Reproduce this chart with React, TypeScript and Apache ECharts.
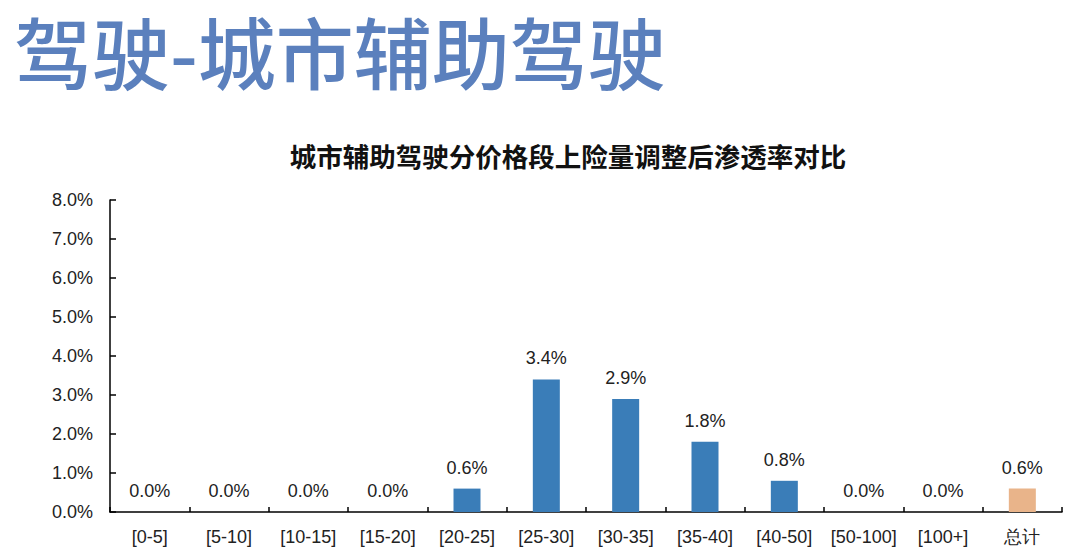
import React, { useEffect, useRef } from "react";
import * as echarts from "echarts";

const categories = ["[0-5]", "[5-10]", "[10-15]", "[15-20]", "[20-25]", "[25-30]", "[30-35]", "[35-40]", "[40-50]", "[50-100]", "[100+]", "总计"];
const values = [0.0, 0.0, 0.0, 0.0, 0.6, 3.4, 2.9, 1.8, 0.8, 0.0, 0.0, 0.6];
const yTicks = [0, 1, 2, 3, 4, 5, 6, 7, 8];
const pageTitle = "驾驶-城市辅助驾驶";
const chartTitle = "城市辅助驾驶分价格段上险量调整后渗透率对比";

export default function App() {
  const ref = useRef<HTMLDivElement>(null);
  useEffect(() => {
    if (!ref.current) return;
    const chart = echarts.init(ref.current, undefined, { renderer: "svg" });
    const last = categories.length - 1;
    chart.setOption({
      animation: false,
      backgroundColor: "#ffffff",
      title: [
        {
          text: pageTitle,
          left: 14,
          top: 4,
          padding: 0,
          textStyle: {
            fontFamily: "Noto Sans CJK SC",
            fontWeight: 500,
            fontSize: 78,
            lineHeight: 92,
            color: "#5b80bd",
          },
        },
        {
          text: chartTitle,
          left: 563,
          top: 137,
          textAlign: "center",
          textStyle: {
            fontFamily: "Noto Sans CJK SC",
            fontWeight: "bold",
            fontSize: 26.5,
            color: "#111111",
          },
        },
      ],
      grid: { left: 110, right: 18, top: 200, bottom: 48, containLabel: false },
      xAxis: {
        type: "category",
        data: categories,
        axisLine: { lineStyle: { color: "#000000", width: 1.5 } },
        axisTick: { show: true, inside: true, length: 5, alignWithLabel: false, lineStyle: { color: "#000000", width: 1.5 } },
        axisLabel: {
          color: "#222222",
          fontFamily: "Liberation Sans, Arial",
          fontSize: 18,
          margin: 16,
          interval: 0,
        },
      },
      yAxis: {
        type: "value",
        min: 0,
        max: 8,
        interval: 1,
        splitLine: { show: false },
        axisLine: { show: true, lineStyle: { color: "#000000", width: 1.5 } },
        axisTick: { show: true, inside: true, length: 6, lineStyle: { color: "#000000", width: 1.5 } },
        axisLabel: {
          color: "#222222",
          fontFamily: "Liberation Sans, Arial",
          fontSize: 18,
          margin: 17,
          formatter: (v: number) => (yTicks.includes(v) ? v.toFixed(1) + "%" : ""),
        },
      },
      series: [
        {
          type: "bar",
          data: values.map((v, i) => ({
            value: v,
            itemStyle: { color: i === last ? "#e9b48a" : "#3a7db8" },
          })),
          barWidth: 27,
          label: {
            show: true,
            position: "top",
            distance: 12,
            color: "#222222",
            fontFamily: "Liberation Sans, Arial",
            fontSize: 18,
            formatter: (p: any) => Number(p.value).toFixed(1) + "%",
          },
        },
      ],
    });
    return () => chart.dispose();
  }, []);
  return <div ref={ref} style={{ width: 1080, height: 560, position: "absolute", left: 0, top: 0 }} />;
}
